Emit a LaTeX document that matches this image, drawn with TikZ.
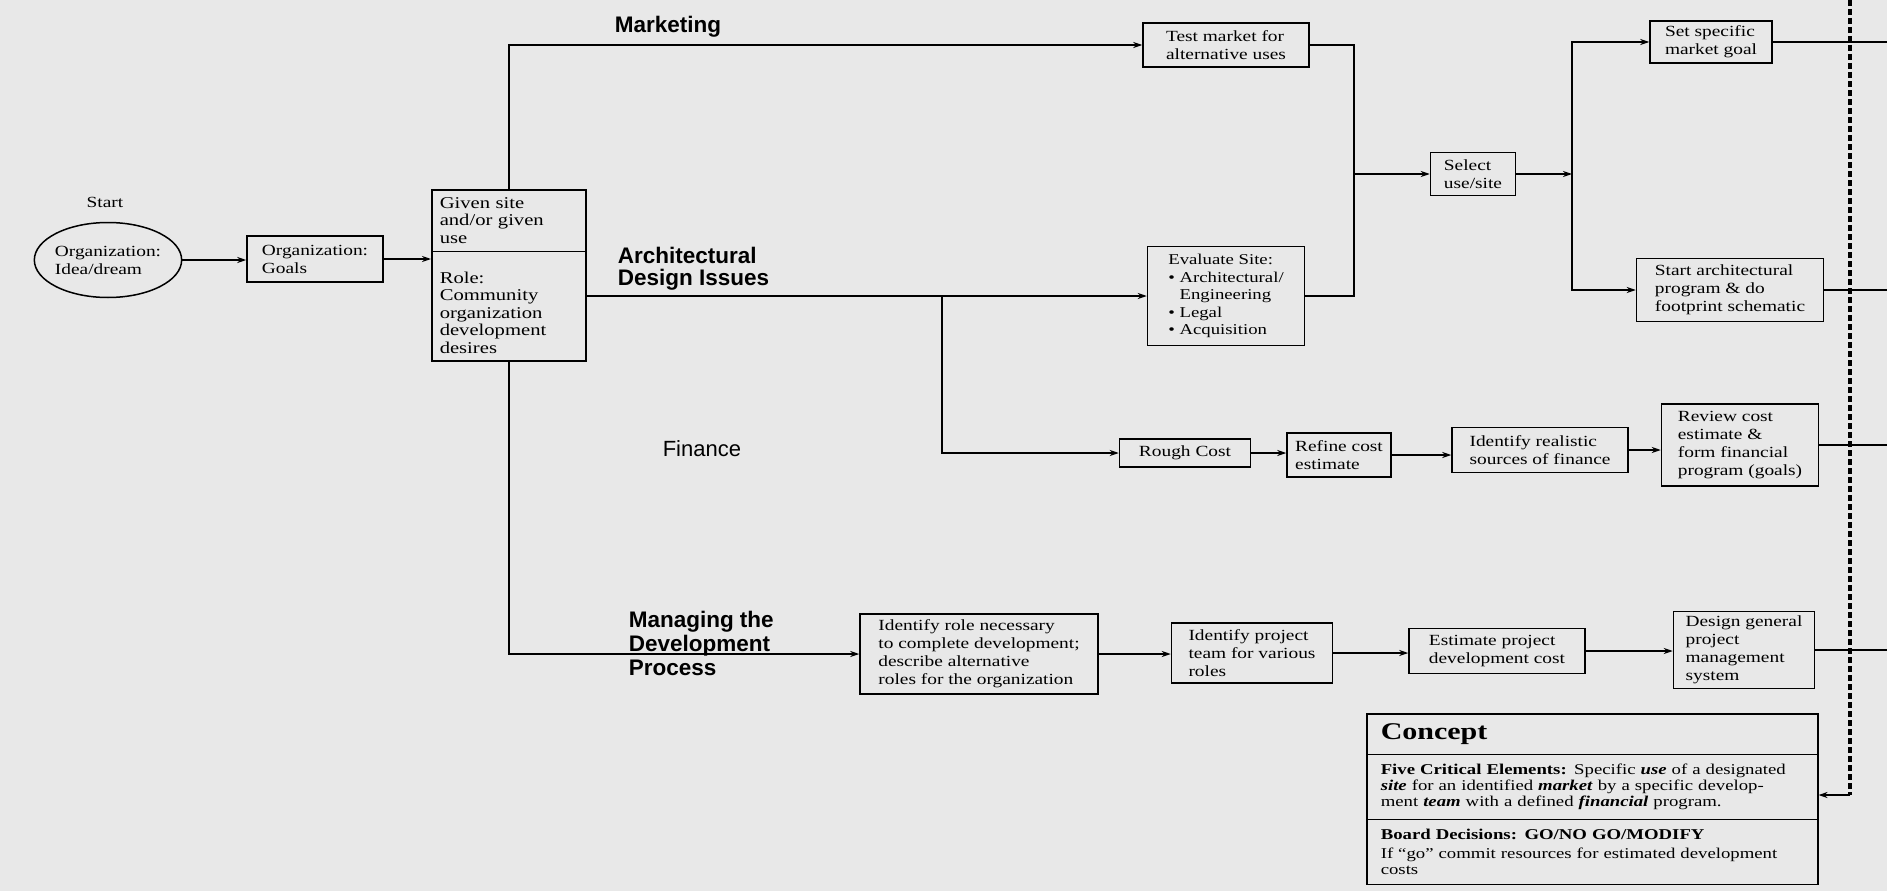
\documentclass[tikz,border=0pt]{standalone}
\usepackage{fontspec}
\setmainfont{Liberation Serif}[FakeStretch=1.25]
\newfontfamily\lanefont{Liberation Sans}
\usetikzlibrary{shapes.geometric,shapes.multipart,arrows.meta}
\definecolor{paper}{RGB}{232,232,232}
\begin{document}
\begin{tikzpicture}[x=1pt, y=-1pt, line width=1.5pt,
    box/.style={draw, align=left, inner sep=4pt, font=\fontsize{15.5}{18}\selectfont},
    arr/.style={-{Stealth[length=9pt,width=6pt]}},
    lane/.style={anchor=west, inner sep=0pt, align=left, font=\lanefont\bfseries\fontsize{22.5}{22}\selectfont},
    bolddash/.style={line width=3.5pt, dash pattern=on 6pt off 3pt}]
  \useasboundingbox[fill=paper] (0,0) rectangle (1887,891);

  \node[font=\fontsize{15.5}{18}\selectfont] (start) at (105,202) {Start};
  \node[draw, ellipse, inner sep=-1pt, minimum width=146pt, minimum height=75pt, align=left,
        font=\fontsize{15.5}{18}\selectfont] (idea) at (108,260) {Organization:\\Idea/dream};
  \node[box, minimum width=136pt, minimum height=46pt] (goals) at (315,259) {Organization:\\Goals};
  \node[draw, rectangle split, rectangle split parts=2, text width=138pt, inner xsep=8pt, inner ysep=7pt,
        anchor=north west, font=\fontsize{16.5}{17.5}\selectfont] (given) at (431,189)
        {Given site\\and/or given\\use \nodepart{two}\rule{0pt}{24pt}Role:\\Community\\organization\\development\\desires};

  \node[lane] (marketing) at (614,27) {Marketing};
  \node[lane] (archlane) at (617,269) {Architectural\\Design Issues};
  \node[lane, font=\lanefont\fontsize{22}{22}\selectfont] (finlane) at (662,449) {Finance};
  \node[lane, font=\lanefont\bfseries\fontsize{22.5}{24}\selectfont] (mgmtlane) at (628,643)
        {Managing the\\Development\\Process};

  \node[box, minimum width=166pt, minimum height=44pt] (testmkt) at (1226,45) {Test market for\\alternative uses};
  \node[box, minimum width=157pt, minimum height=99pt, font=\fontsize{15}{17.5}\selectfont] (evalsite) at (1226,296)
        {Evaluate Site:\\\textbullet\ Architectural/\\\phantom{\textbullet\ }Engineering\\\textbullet\ Legal\\\textbullet\ Acquisition};
  \node[box, minimum width=85pt, minimum height=43pt] (select) at (1473,174) {Select\\use/site};
  \node[box, minimum width=122pt, minimum height=42pt] (setgoal) at (1711,42) {Set specific\\market goal};
  \node[box, minimum width=187pt, minimum height=63pt] (archprog) at (1730,290)
        {Start architectural\\program \& do\\footprint schematic};

  \node[box, minimum width=131pt, minimum height=28pt] (rough) at (1185,453) {Rough Cost};
  \node[box, minimum width=104pt, minimum height=44pt] (refine) at (1339,455) {Refine cost\\estimate};
  \node[box, minimum width=176pt, minimum height=45pt] (finsrc) at (1540,450) {Identify realistic\\sources of finance};
  \node[box, minimum width=157pt, minimum height=82pt] (review) at (1740,445)
        {Review cost\\estimate \&\\form financial\\program (goals)};

  \node[box, minimum width=238pt, minimum height=80pt] (role) at (979,654)
        {Identify role necessary\\to complete development;\\describe alternative\\roles for the organization};
  \node[box, minimum width=161pt, minimum height=60pt] (team) at (1252,653) {Identify project\\team for various\\roles};
  \node[box, minimum width=176pt, minimum height=45pt] (estimate) at (1497,651) {Estimate project\\development cost};
  \node[box, minimum width=141pt, minimum height=77pt] (mgmtsys) at (1744,650)
        {Design general\\project\\management\\system};

  \node[draw, rectangle split, rectangle split parts=3, text width=423pt, inner xsep=14pt, inner ysep=9pt,
        anchor=north west, font=\fontsize{15}{16}\selectfont] (concept) at (1366,713)
        {{\fontsize{24}{26}\selectfont\bfseries Concept}
         \nodepart{two}\textbf{Five Critical Elements:} Specific \textbf{\textit{use}} of a designated\\
         \textbf{\textit{site}} for an identified \textbf{\textit{market}} by a specific develop-\\
         ment \textbf{\textit{team}} with a defined \textbf{\textit{financial}} program.
         \nodepart{three}\textbf{Board Decisions: GO/NO GO/MODIFY}\\[3pt]
         If ``go'' commit resources for estimated development\\costs};

  \draw[arr] (idea.east) -- (idea.east -| goals.west);
  \draw[arr] (goals.east) -- (goals.east -| given.west);
  \draw[arr] (given.north) |- (testmkt.west);
  \draw[arr] (given.east |- evalsite.west) -- (evalsite.west);
  \coordinate (fork) at (942,296);
  \draw[arr] (fork) |- (rough.west);
  \draw[arr] (given.south) |- (role.west);

  \coordinate (merge) at (1354,174);
  \draw (testmkt.east) -| (merge);
  \draw (evalsite.east) -| (merge);
  \draw[arr] (merge) -- (select.west);
  \coordinate (split) at (1572,174);
  \draw[arr] (select.east) -- (split);
  \draw[arr] (split) |- (setgoal.west);
  \draw[arr] (split) |- (archprog.west);

  \foreach \a/\b in {rough/refine, refine/finsrc, finsrc/review, role/team, team/estimate, estimate/mgmtsys}
    \draw[arr] (\a.east) -- (\a.east -| \b.west);

  \coordinate (edge) at (1887,0);
  \foreach \n in {setgoal, archprog, review, mgmtsys}
    \draw (\n.east) -- (\n.east -| edge);

  \coordinate (dtop) at (1850,0);
  \coordinate (dbot) at (1850,795);
  \draw[bolddash] (dtop) -- (dbot);
  \draw[arr] (dbot) -- (dbot -| concept.east);
\end{tikzpicture}
\end{document}
